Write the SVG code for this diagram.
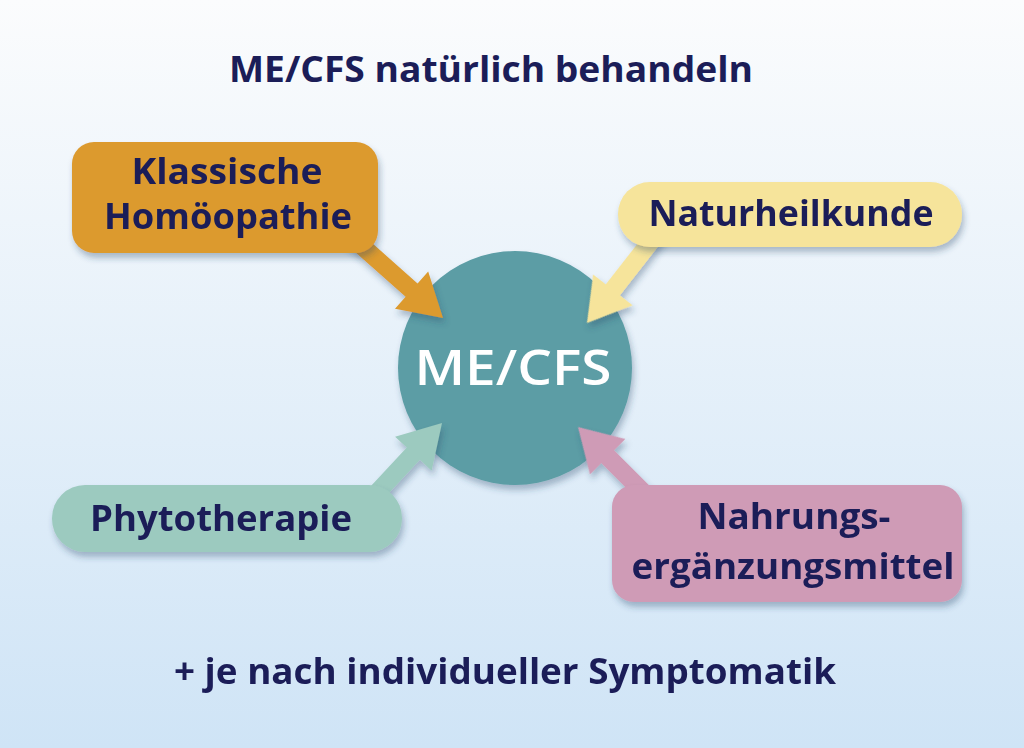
<svg xmlns="http://www.w3.org/2000/svg" width="1024" height="748" viewBox="0 0 1024 748">
<defs>
<linearGradient id="bg" x1="0" y1="0" x2="0" y2="1">
<stop offset="0" stop-color="#fbfcfd"/>
<stop offset="1" stop-color="#cfe4f6"/>
</linearGradient>
<filter id="sh" x="-20%" y="-20%" width="140%" height="150%">
<feDropShadow dx="2" dy="5" stdDeviation="3" flood-color="#2a4a6a" flood-opacity="0.35"/>
</filter>
<path id="arr" d="M-130,-9 L-42,-9 L-42,-25 L0,0 L-42,25 L-42,9 L-130,9 Z"/>
</defs>
<style>
.t{font-family:"Open Sans",Lato,"Liberation Sans",sans-serif;font-weight:700;fill:#1b1d58;text-anchor:middle}
.n{font-size:35px}
</style>
<rect width="1024" height="748" fill="url(#bg)"/>
<text class="t" x="491" y="82" font-size="35" textLength="524" lengthAdjust="spacingAndGlyphs">ME/CFS natürlich behandeln</text>
<g id="center">
<circle cx="515" cy="368" r="117" fill="#5b9da5" filter="url(#sh)"/>
<text x="513" y="385" font-family="'Open Sans',Lato,sans-serif" font-weight="600" font-size="48" fill="#ffffff" text-anchor="middle" textLength="197" lengthAdjust="spacingAndGlyphs">ME/CFS</text>
</g>
<g id="connectors" filter="url(#sh)">
<use href="#arr" fill="#dc9a2e" transform="translate(443,318) rotate(41.6)"/>
<use href="#arr" fill="#f6e49b" transform="translate(587,323) rotate(128)"/>
<use href="#arr" fill="#9ccabf" transform="translate(442,423) rotate(-47)"/>
<use href="#arr" fill="#cf9bb6" transform="translate(578,427) rotate(-135)"/>
</g>
<g id="homoeopathie">
<rect x="72" y="142" width="306" height="111" rx="22" fill="#dc9a2e" filter="url(#sh)"/>
<text class="t n" x="227" y="184" textLength="191" lengthAdjust="spacingAndGlyphs">Klassische</text>
<text class="t n" x="228" y="229" textLength="248" lengthAdjust="spacingAndGlyphs">Homöopathie</text>
</g>
<g id="naturheilkunde">
<rect x="618" y="182" width="344" height="65" rx="32" fill="#f6e49b" filter="url(#sh)"/>
<text class="t n" x="791" y="226" textLength="285" lengthAdjust="spacingAndGlyphs">Naturheilkunde</text>
</g>
<g id="phytotherapie">
<rect x="52" y="485" width="350" height="67" rx="33" fill="#9ccabf" filter="url(#sh)"/>
<text class="t n" x="221" y="531" textLength="262" lengthAdjust="spacingAndGlyphs">Phytotherapie</text>
</g>
<g id="nahrung">
<rect x="612" y="485" width="350" height="117" rx="22" fill="#cf9bb6" filter="url(#sh)"/>
<text class="t n" x="794" y="529" textLength="193" lengthAdjust="spacingAndGlyphs">Nahrungs-</text>
<text class="t n" x="793" y="579" textLength="323" lengthAdjust="spacingAndGlyphs">ergänzungsmittel</text>
</g>
<text class="t" x="505" y="684" font-size="35" textLength="662" lengthAdjust="spacingAndGlyphs">+ je nach individueller Symptomatik</text>
</svg>
